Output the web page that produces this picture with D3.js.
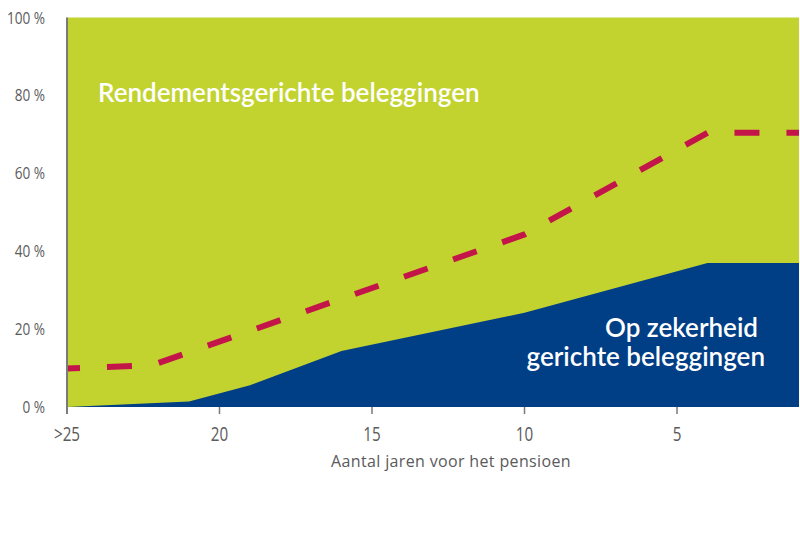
<!DOCTYPE html>
<html>
<head>
<meta charset="utf-8">
<script src="https://cdn.jsdelivr.net/npm/d3@7"></script>
<style>
  html, body { margin: 0; padding: 0; background: #ffffff; }
  svg { display: block; }
  .tick-label { font-family: "Open Sans", sans-serif; fill: #5a5a5a; }
  .inner-label { font-family: "Lato", "Open Sans", sans-serif; font-weight: 600; fill: #ffffff; }
</style>
</head>
<body>
<svg id="chart" width="800" height="550"></svg>
<script>
// ---- data ----
const yTickValues = [0, 20, 40, 60, 80, 100];
const xTickValues = [25, 20, 15, 10, 5];
const xTickLabels = [">25", "20", "15", "10", "5"];
const xDomain = [25, 1];

// safety-oriented investments (blue area), % of portfolio
const blueYears  = [25, 21, 19, 16, 10, 4, 1];
const blueValues = [0, 1.4, 5.6, 14.4, 24.2, 37, 37];

// dashed reference line
const lineYears  = [25, 22.5, 22, 10, 4, 1];
const lineValues = [9.9, 10.6, 11.3, 44.3, 70.4, 70.4];

const xAxisTitle = "Aantal jaren voor het pensioen";
const topLabel = "Rendementsgerichte beleggingen";
const bottomLabel = ["Op zekerheid", "gerichte beleggingen"];

// ---- drawing ----
const svg = d3.select("#chart");
const x = d3.scaleLinear().domain(xDomain).range([67, 799]);
const y = d3.scaleLinear().domain([0, 100]).range([407, 17.5]);

const green = "#c2d32f", blue = "#003e85", red = "#c3154a", grey = "#7a7a7a";

// green background area (return-oriented, fills to 100%)
const greenArea = d3.area().x(d => x(d)).y0(y(0)).y1(y(100));
svg.append("path").datum(xDomain).attr("d", greenArea).attr("fill", green);

// blue area
const blueData = blueYears.map((yr, i) => ({ yr, v: blueValues[i] }));
const blueArea = d3.area().x(d => x(d.yr)).y0(y(0)).y1(d => y(d.v));
svg.append("path").datum(blueData).attr("d", blueArea).attr("fill", blue);

// dashed line
const lineData = lineYears.map((yr, i) => ({ yr, v: lineValues[i] }));
const line = d3.line().x(d => x(d.yr)).y(d => y(d.v));
svg.append("path").datum(lineData).attr("d", line)
  .attr("fill", "none").attr("stroke", red).attr("stroke-width", 6)
  .attr("stroke-dasharray", "25,27").attr("stroke-dashoffset", 12);

// left axis line
svg.append("line").attr("x1", x(25)).attr("x2", x(25))
  .attr("y1", y(100)).attr("y2", 414)
  .attr("stroke", grey).attr("stroke-width", 2);

// x ticks
svg.selectAll(".xtick").data(xTickValues.slice(1)).enter().append("line")
  .attr("x1", d => x(d)).attr("x2", d => x(d))
  .attr("y1", 407).attr("y2", 414)
  .attr("stroke", grey).attr("stroke-width", 1.5);

// condensed-looking labels via horizontal scaling
svg.selectAll(".xlab").data(xTickValues).enter().append("text")
  .attr("class", "tick-label")
  .attr("transform", d => `translate(${x(d)},441) scale(0.78,1)`)
  .attr("text-anchor", "middle")
  .attr("font-size", 19.5)
  .text((d, i) => xTickLabels[i]);

svg.selectAll(".ylab").data(yTickValues).enter().append("text")
  .attr("class", "tick-label")
  .attr("transform", d => `translate(45,${y(d) + 6}) scale(0.8,1)`)
  .attr("text-anchor", "end")
  .attr("font-size", 17)
  .text(d => d + " %");

// axis title
svg.append("text").attr("class", "tick-label")
  .attr("x", 451).attr("y", 467)
  .attr("text-anchor", "middle")
  .attr("font-size", 16)
  .attr("letter-spacing", 0.35)
  .text(xAxisTitle);

// inner labels
svg.append("text").attr("class", "inner-label")
  .attr("x", 98).attr("y", 102)
  .attr("font-size", 26)
  .text(topLabel);

svg.append("text").attr("class", "inner-label")
  .attr("x", 758).attr("y", 337)
  .attr("text-anchor", "end")
  .attr("font-size", 26)
  .text(bottomLabel[0]);
svg.append("text").attr("class", "inner-label")
  .attr("x", 765).attr("y", 366)
  .attr("text-anchor", "end")
  .attr("font-size", 26)
  .text(bottomLabel[1]);
</script>
</body>
</html>
